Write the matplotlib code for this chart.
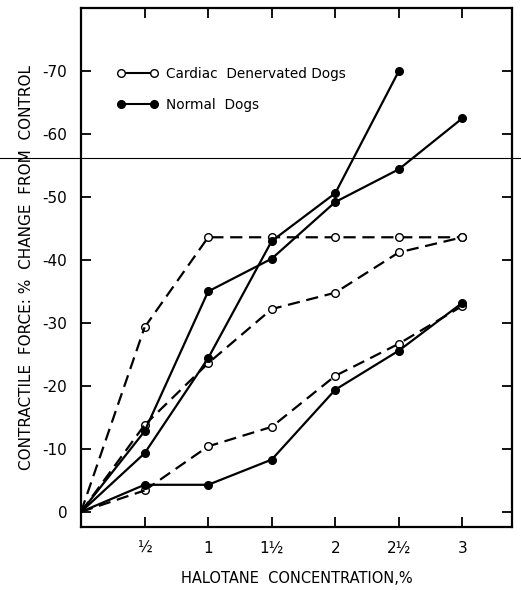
import matplotlib.pyplot as plt
from matplotlib.lines import Line2D

plt.rcParams['axes.unicode_minus'] = False
plt.rcParams['font.family'] = 'DejaVu Sans'

# halotane concentration (%)
conc = [0, 0.5, 1, 1.5, 2, 2.5, 3]
conc_tick_labels = ['½', '1', '1½', '2', '2½', '3']

# cardiac denervated dogs (open circles, dashed)
denerv_1 = [0, -29.3, -43.6, -43.6, -43.6, -43.6, -43.6]
denerv_2 = [0, -13.8, -23.6, -32.2, -34.8, -41.2, -43.6]
denerv_3 = [0, -3.4, -10.4, -13.5, -21.6, -26.7, -32.7]

# normal dogs (filled circles, solid)
normal_1 = [0, -9.3, -24.4, -43.0, -50.6, -70.0]       # stops at 2 1/2
normal_2 = [0, -12.8, -35.0, -40.2, -49.2, -54.4, -62.5]
normal_3 = [0, -4.3, -4.3, -8.3, -19.4, -25.6, -33.2]

y_ticks = [0, -10, -20, -30, -40, -50, -60, -70]

fig = plt.figure(figsize=(5.21, 5.90), dpi=100)
ax = fig.add_axes([0.1555, 0.1068, 0.8272, 0.8796])

dash = dict(color='black', lw=1.6, dashes=(5.5, 3), marker='o', ms=5.5,
            mfc='white', mec='black', mew=1.0)
solid = dict(color='black', lw=1.6, ls='-', marker='o', ms=5.5,
             mfc='black', mec='black')

for ys in [denerv_1, denerv_2, denerv_3]:
    ax.plot(conc[1:len(ys)], ys[1:], **dash)
    ax.plot(conc[:2], ys[:2], color='black', lw=1.6, dashes=(5.5, 3))
for ys in [normal_1, normal_2, normal_3]:
    ax.plot(conc[1:len(ys)], ys[1:], **solid)
    ax.plot(conc[:2], ys[:2], color='black', lw=1.6)

ax.set_xlim(0, 3.39)
ax.set_ylim(2.4, -80)

ax.set_xticks(conc[1:])
ax.set_xticklabels(conc_tick_labels, fontsize=11)
ax.set_yticks(y_ticks)
ax.set_yticklabels([str(v) for v in y_ticks], fontsize=11)
ax.tick_params(direction='in', length=7, width=1.3, top=True, right=True, pad=10)

for s in ax.spines.values():
    s.set_linewidth(1.6)

ax.set_xlabel('HALOTANE  CONCENTRATION,%', fontsize=10.5, labelpad=11)
ax.set_ylabel('CONTRACTILE  FORCE: %  CHANGE  FROM  CONTROL', fontsize=11, labelpad=6)

handles = [
    Line2D([], [], color='black', lw=1.5, marker='o', ms=5.5, mfc='white', mec='black'),
    Line2D([], [], color='black', lw=1.5, marker='o', ms=5.5, mfc='black', mec='black'),
]
ax.legend(handles, ['Cardiac  Denervated Dogs', 'Normal  Dogs'], loc='upper left',
          bbox_to_anchor=(0.084, 0.886), frameon=False, fontsize=9.8, numpoints=2,
          handlelength=3.0, handletextpad=0.6, labelspacing=1.2, borderpad=0,
          borderaxespad=0)

# stray scan line running across the page
fig.add_artist(Line2D([0, 1], [0.732, 0.732], transform=fig.transFigure,
                      color='black', lw=0.8))

fig.savefig('out.png', dpi=100)
